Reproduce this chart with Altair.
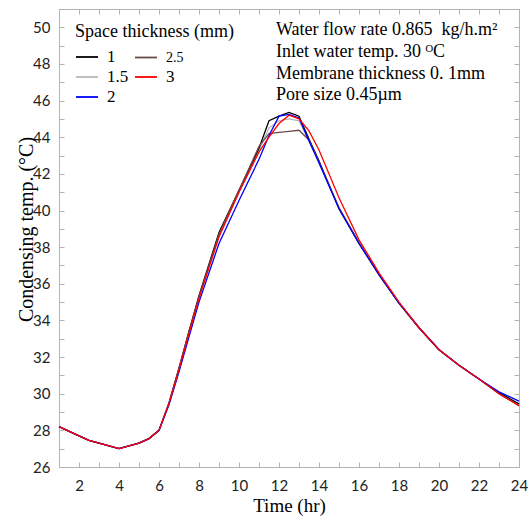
import altair as alt
import pandas as pd

# ---- data ----
times = [1, 2, 2.5, 3, 4, 5, 5.5, 6, 6.5, 7, 7.5, 8, 9, 10, 11, 11.5, 12, 12.5, 13, 13.5,
         14, 15, 16, 17, 18, 19, 20, 21, 22, 23, 24]

s_1 = [28.2, 27.7, 27.45, 27.3, 27.0, 27.3, 27.55, 28.0, 29.5, 31.4, 33.4, 35.35, 38.8, 41.1,
       43.4, 44.9, 45.15, 45.35, 45.15, 43.9, 42.7, 40.1, 38.2, 36.5, 34.95, 33.6, 32.4,
       31.55, 30.8, 30.05, 29.45]
s_15 = [28.2, 27.7, 27.45, 27.3, 27.0, 27.3, 27.55, 28.0, 29.5, 31.4, 33.4, 35.3, 38.7, 41.0,
        43.3, 44.5, 44.9, 45.0, 44.9, 43.8, 42.7, 40.15, 38.25, 36.5, 34.95, 33.6, 32.4,
        31.55, 30.8, 30.0, 29.4]
s_2 = [28.2, 27.7, 27.45, 27.3, 27.0, 27.3, 27.55, 28.0, 29.4, 31.2, 33.1, 35.0, 38.2, 40.55,
       42.8, 44.1, 45.15, 45.25, 45.05, 43.8, 42.6, 40.1, 38.2, 36.5, 34.95, 33.6, 32.4,
       31.55, 30.8, 30.1, 29.6]
s_25 = [28.2, 27.7, 27.45, 27.3, 27.0, 27.3, 27.55, 28.0, 29.5, 31.4, 33.4, 35.3, 38.7, 41.1,
        43.5, 44.2, 44.27, 44.32, 44.38, 43.85, 42.65, 40.15, 38.25, 36.5, 34.95, 33.6, 32.4,
        31.55, 30.8, 30.0, 29.35]
s_3 = [28.2, 27.7, 27.45, 27.3, 27.0, 27.3, 27.55, 28.0, 29.45, 31.3, 33.3, 35.2, 38.55, 41.0,
       43.2, 44.0, 44.75, 45.2, 45.0, 44.35, 43.3, 40.7, 38.4, 36.6, 35.0, 33.6, 32.4,
       31.55, 30.8, 30.0, 29.35]

draw_order = ["1.5", "1", "2.5", "2", "3"]
series_values = {"1": s_1, "1.5": s_15, "2": s_2, "2.5": s_25, "3": s_3}

legend_order = ["1", "1.5", "2", "2.5", "3"]
legend_colors = ["#000000", "#b8b8b8", "#0000ff", "#6e4a4a", "#ff0000"]

x_label_values = list(range(2, 25, 2))
x_tick_values = list(range(1, 25))
y_label_values = list(range(26, 51, 2))
y_tick_values = list(range(26, 52))

ann_text = ["Water flow rate 0.865 \u00a0kg/h.m\u00b2",
            "Inlet water temp. 30 \u1d3cC",
            "Membrane thickness 0. 1mm",
            "Pore size 0.45\u00b5m"]
ann_x = [11.85, 11.85, 11.85, 11.85]
ann_y = [49.56, 48.36, 47.19, 46.02]

rows = []
for name in draw_order:
    for t, v in zip(times, series_values[name]):
        rows.append({"time": t, "temp": v, "series": name})
df = pd.DataFrame(rows)
ann = pd.DataFrame({"text": ann_text, "time": ann_x, "temp": ann_y})

W, H = 460, 458
serif = "Liberation Serif"
sans = "Lato"
gray = "#b3b3b3"

xscale = alt.Scale(domain=[1, 24], nice=False, zero=False)
yscale = alt.Scale(domain=[26, 51], nice=False, zero=False)

lines = alt.Chart(df).mark_line(strokeWidth=1.3).encode(
    x=alt.X("time:Q", scale=xscale, axis=alt.Axis(
        values=x_label_values, ticks=False, tickSize=0, grid=False, domainColor=gray,
        labelFont=sans, labelFontSize=15, labelPadding=11, labelColor="#222222",
        labelFlush=False, title="Time (hr)", titleFont=serif, titleFontSize=19,
        titleFontWeight="normal", titleColor="#000000", titleY=44,
        titleBaseline="alphabetic")),
    y=alt.Y("temp:Q", scale=yscale, axis=alt.Axis(
        values=y_label_values, ticks=False, tickSize=0, grid=False, domainColor=gray,
        labelFont=sans, labelFontSize=15, labelPadding=9, labelColor="#222222",
        labelFlush=False, title="Condensing temp. (\u00b0C)", titleFont=serif,
        titleFontSize=20, titleFontWeight="normal", titleColor="#000000",
        titleX=-27, titleY=220, titleAngle=270, titleBaseline="alphabetic")),
    color=alt.Color("series:N", scale=alt.Scale(domain=legend_order, range=legend_colors),
                    legend=alt.Legend(
                        title="Space thickness (mm)", orient="none", legendX=16, legendY=14,
                        columns=2, symbolType="stroke", symbolSize=484,
                        symbolStrokeWidth=1.8, labelFont=serif,
                        labelFontSize={"expr": "datum.label == '2.5' ? 14 : 17"},
                        labelColor="#000000", labelOffset=8, columnPadding=2,
                        rowPadding=0, titleFont=serif, titleFontSize=18,
                        titleFontWeight="normal", titleColor="#000000", titlePadding=4,
                        padding=0)),
    detail="series:N",
)

texts = alt.Chart(ann).mark_text(align="left", baseline="alphabetic", font=serif,
                                 fontSize=18, color="#000000").encode(
    x=alt.X("time:Q", scale=xscale, axis=None),
    y=alt.Y("temp:Q", scale=yscale, axis=None),
    text="text:N",
)

ticks_bl = alt.Chart(df).mark_point(opacity=0).encode(
    x=alt.X("time:Q", scale=xscale, axis=alt.Axis(
        orient="bottom", offset=-5, values=x_tick_values, labels=False, domain=False,
        ticks=True, tickSize=5, tickColor=gray, grid=False, title=None)),
    y=alt.Y("temp:Q", scale=yscale, axis=alt.Axis(
        orient="left", offset=-5, values=y_tick_values, labels=False, domain=False,
        ticks=True, tickSize=5, tickColor=gray, grid=False, title=None)),
)

ticks_tr = alt.Chart(df).mark_point(opacity=0).encode(
    x=alt.X("time:Q", scale=xscale, axis=alt.Axis(
        orient="top", offset=-5, values=x_tick_values, labels=False, domain=False,
        ticks=True, tickSize=5, tickColor=gray, grid=False, title=None)),
    y=alt.Y("temp:Q", scale=yscale, axis=alt.Axis(
        orient="right", offset=-5, values=y_tick_values, labels=False, domain=False,
        ticks=True, tickSize=5, tickColor=gray, grid=False, title=None)),
)

chart = alt.layer(ticks_bl, ticks_tr, lines, texts).resolve_axis(
    x="independent", y="independent"
).properties(
    width=W, height=H,
    autosize=alt.AutoSizeParams(type="none"),
    padding={"left": 59, "top": 9, "right": 11, "bottom": 50},
    background="white",
).configure_view(stroke=gray, strokeWidth=1)

chart.save("out.html", embed_options={"renderer": "svg", "actions": False})
